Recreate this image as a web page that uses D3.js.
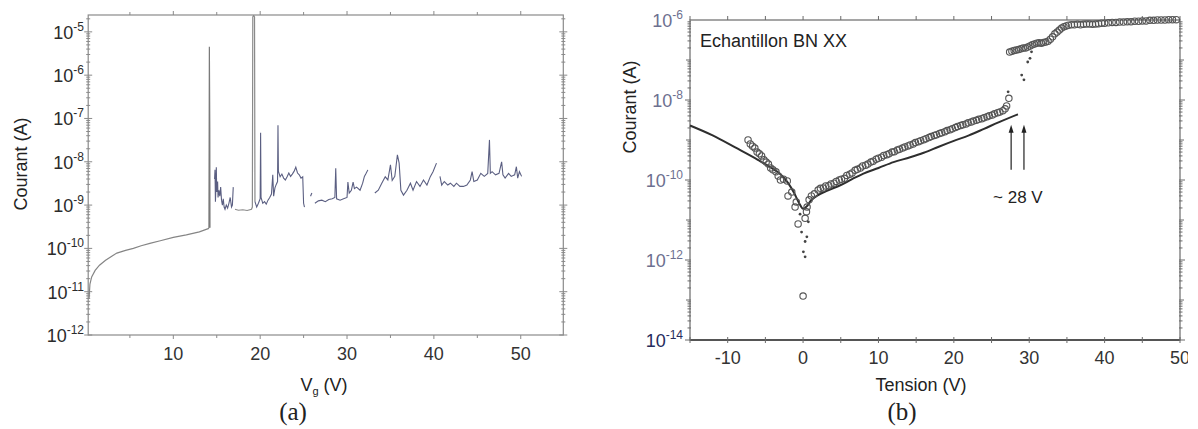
<!DOCTYPE html>
<html><head><meta charset="utf-8">
<script src="https://cdn.jsdelivr.net/npm/d3@7"></script>
<style>
body{margin:0;background:#fff}
svg text{font-family:"Liberation Sans",Arial,sans-serif}
</style>
</head><body>
<svg id="c" width="1198" height="429"></svg>
<script>
// ---------- Panel (a) data: Vg (V), I (A) ----------
const aSmooth = [[0.3,7e-12],[0.4,1.5e-11],[0.6,2.2e-11],[1.0,3.1e-11],[1.5,4.1e-11],[2.2,5.3e-11],[3.0,6.8e-11],[3.5,7.8e-11],[4.5,9e-11],[5.4,1.0e-10],[6.3,1.15e-10],[7.3,1.3e-10],[8.5,1.5e-10],[10,1.8e-10],[11.5,2.05e-10],[13,2.4e-10],[14.1,2.9e-10]];
const aSpike1 = [[14.1,2.9e-10],[14.15,4.5e-6],[14.2,6e-8],[14.22,3e-10]];
const aNoise1 = [[14.75,4e-9],[14.8,6.5e-9],[14.85,1.2e-9],[14.9,2.5e-9],[14.95,7.5e-9],[15.0,2.0e-9],[15.1,3.5e-9],[15.15,1.5e-9],[15.25,2.2e-9],[15.35,1.6e-9],[15.45,2.6e-9],[15.55,1.3e-9],[15.65,1.0e-9],[15.75,1.4e-9],[15.85,9e-10],[15.95,8e-10],[16.1,1.0e-9],[16.25,8.5e-10],[16.4,1.1e-9],[16.55,1.5e-9],[16.7,9e-10],[16.8,1.0e-9],[16.9,2.6e-9]];
const aSpike2 = [[17.1,8e-10],[17.5,7.6e-10],[18.0,7.8e-10],[18.5,7.5e-10],[19.0,8e-10],[19.1,9e-10],[19.15,2.2e-5],[19.25,2.4e-5],[19.35,2.2e-5],[19.4,1.2e-9]];
const aNoise2 = [[19.4,1.2e-9],[19.6,9e-10],[19.8,1.1e-9],[20.0,1.4e-9],[20.05,4.7e-8],[20.1,1.5e-9],[20.3,1.1e-9],[20.5,1.2e-9],[20.7,1.05e-9],[20.9,1.3e-9],[21.1,1.5e-9],[21.3,1.8e-9],[21.45,5e-9],[21.55,1.6e-9],[21.7,2.5e-9],[21.85,3e-9],[22.0,3.5e-9],[22.05,7e-8],[22.1,6e-9],[22.3,4.5e-9],[22.5,5.2e-9],[22.7,4.2e-9],[22.9,3.8e-9],[23.1,4.5e-9],[23.3,5.5e-9],[23.5,4.6e-9],[23.7,5.2e-9],[23.9,6e-9],[24.1,7.5e-9],[24.3,5.5e-9],[24.5,5e-9],[24.7,4.2e-9],[24.9,4.5e-9],[25.0,1.1e-9],[25.1,9e-10]];
const aNoise3 = [[25.8,1.6e-9],[25.95,1.9e-9]];
const aNoise4 = [[26.3,1.1e-9],[26.7,1.25e-9],[27.1,1.3e-9],[27.5,1.2e-9],[27.9,1.35e-9],[28.3,1.4e-9],[28.6,1.5e-9],[28.7,7.1e-9],[28.8,1.4e-9],[29.2,1.3e-9],[29.6,1.4e-9],[30.0,1.5e-9],[30.1,3.4e-9],[30.25,1.9e-9],[30.5,2.2e-9],[30.7,3.4e-9],[30.85,2.4e-9],[31.1,2.6e-9],[31.5,2.2e-9],[31.8,3.2e-9],[32.0,4.6e-9],[32.2,5.4e-9],[32.4,6.5e-9]];
const aNoise5 = [[33.2,1.9e-9],[33.6,2.2e-9],[34.0,3.2e-9],[34.4,4.5e-9],[34.7,3.8e-9],[35.0,8.5e-9],[35.2,3.7e-9],[35.5,4.6e-9],[35.8,1.45e-8],[36.0,9.3e-9],[36.2,2.2e-9],[36.5,1.7e-9],[36.9,2.2e-9],[37.3,3.2e-9],[37.6,2.2e-9],[38.0,3.5e-9],[38.4,2.7e-9],[38.8,3.8e-9],[39.2,2.9e-9],[39.6,4.6e-9],[39.9,5.9e-9],[40.3,9.3e-9]];
const aNoise6 = [[40.7,4.6e-9],[40.9,2.9e-9],[41.2,3.5e-9],[41.6,2.9e-9],[41.9,3.2e-9],[42.3,2.7e-9],[42.6,3.2e-9],[43.0,2.7e-9],[43.4,2.7e-9],[43.8,2.9e-9],[44.2,3.8e-9],[44.4,5.9e-9],[44.6,3.5e-9],[45.0,3.8e-9],[45.4,5.4e-9],[45.8,4.6e-9],[46.2,5.4e-9],[46.4,3.2e-8],[46.5,5.4e-9],[46.7,5.9e-9],[47.1,5.0e-9],[47.5,5.4e-9],[47.8,1.0e-8],[47.95,5.0e-9],[48.2,4.2e-9],[48.6,5.4e-9],[48.9,4.6e-9],[49.3,5.0e-9],[49.5,7.7e-9],[49.65,4.2e-9],[49.85,5.9e-9],[50.1,4.6e-9]];

// ---------- Panel (b) data: Tension (V), Courant (A) ----------
const bFit = [[-15,2.3e-9],[-12,1.3e-9],[-9,6.5e-10],[-6,3.2e-10],[-4,1.9e-10],[-3,1.4e-10],[-2,8.5e-11],[-1.2,4.8e-11],[-0.5,2.6e-11],[0,1.9e-11],[0.5,2.2e-11],[1.0,3.0e-11],[2,4.2e-11],[3,5.2e-11],[5,7.5e-11],[6.5,1.05e-10],[8,1.45e-10],[10,2.0e-10],[12,2.8e-10],[14.2,3.7e-10],[16,4.8e-10],[18,6.8e-10],[20,9.5e-10],[22,1.3e-9],[24,1.9e-9],[26,2.8e-9],[28.5,4.4e-9]];
const bCircles = [[-7.3,1.0e-9],[-7.0,8e-10],[-6.7,7e-10],[-6.4,6.3e-10],[-6.1,5e-10],[-5.8,4.5e-10],[-5.5,4e-10],[-5.2,3.2e-10],[-4.9,2.8e-10],[-4.6,2.5e-10],[-4.3,2e-10],[-4.0,1.8e-10],[-3.6,1.6e-10],[-3.3,1.25e-10],[-3.0,1e-10],[-2.6,1.05e-10],[-2.1,9.5e-11],[-2.0,4e-11],[-1.5,5e-11],[-1.06,2.1e-11],[-0.9,2.8e-11],[-0.66,8e-12],[0.0,1.25e-13],[0.27,1.1e-11],[0.45,1.6e-11],[0.53,2.1e-11],[0.8,3.2e-11],[1.1,4e-11],[1.5,4.5e-11],
[2.0,5.6e-11],[2.3,6.2e-11],[2.7,6.3e-11],[3.0,7.1e-11],[3.4,7.2e-11],[3.7,8e-11],[4.1,8.3e-11],[4.4,9.2e-11],[4.8,1.0e-10],[5.1,1.05e-10],[5.5,1.1e-10],[5.8,1.3e-10],[6.2,1.4e-10],[6.5,1.5e-10],[6.9,1.75e-10],[7.2,1.85e-10],[7.6,2.0e-10],[7.9,2.25e-10],[8.3,2.35e-10],[8.6,2.5e-10],[9.0,2.8e-10],[9.3,2.95e-10],[9.7,3.3e-10],[10.0,3.5e-10],[10.4,3.7e-10],[10.7,4.1e-10],[11.1,4.3e-10],[11.4,4.5e-10],[11.8,5.0e-10],[12.1,5.1e-10],[12.5,5.6e-10],[12.8,5.9e-10],[13.2,6.3e-10],[13.5,6.7e-10],[13.9,7.1e-10],[14.2,7.5e-10],[14.6,7.9e-10],[14.9,8.6e-10],[15.3,9.1e-10],[15.6,9.6e-10],[16.0,1.02e-9],[16.3,1.08e-9],[16.7,1.15e-9],[17.0,1.22e-9],[17.4,1.3e-9],[17.7,1.36e-9],[18.1,1.45e-9],[18.4,1.52e-9],[18.8,1.6e-9],[19.1,1.72e-9],[19.5,1.8e-9],[19.8,1.92e-9],[20.2,2.05e-9],[20.5,2.18e-9],[20.9,2.3e-9],[21.2,2.42e-9],[21.6,2.5e-9],[21.9,2.68e-9],[22.3,2.8e-9],[22.6,2.98e-9],[23.0,3.1e-9],[23.3,3.28e-9],[23.7,3.4e-9],[24.0,3.6e-9],[24.4,3.8e-9],[24.7,4.05e-9],[25.1,4.2e-9],[25.4,4.5e-9],[25.8,4.8e-9],[26.1,5.0e-9],[26.5,5.4e-9],[26.8,6.0e-9],[27.0,7.1e-9],[27.3,1.1e-8],
[27.4,1.58e-7],[27.7,1.66e-7],[28.0,1.74e-7],[28.3,1.78e-7],[28.6,1.82e-7],[28.9,1.9e-7],[29.2,2.0e-7],[29.5,2.0e-7],[29.8,2.1e-7],[30.1,2.24e-7],[30.4,2.4e-7],[30.7,2.5e-7],[31.0,2.63e-7],[31.3,2.7e-7],[31.6,2.63e-7],[31.9,2.75e-7],[32.2,2.8e-7],[32.5,2.95e-7],[32.8,3.3e-7],[33.1,3.8e-7],[33.4,4.5e-7],[33.7,5.0e-7],[34.0,5.6e-7],[34.3,6.3e-7],[34.6,6.8e-7],[34.9,7.1e-7],[35.2,7.4e-7],[35.6,7.6e-7],[36.0,7.6e-7],[36.4,7.8e-7],[36.8,7.6e-7],[37.2,7.8e-7],[37.6,7.9e-7],[38.0,7.9e-7],[38.4,7.8e-7],[38.8,7.9e-7],[39.2,8.1e-7],[39.6,8.3e-7],[40.0,8.3e-7],[40.5,8.5e-7],[41.0,8.7e-7],[41.5,8.7e-7],[42.0,8.9e-7],[42.5,8.9e-7],[43.0,9.1e-7],[43.5,9.1e-7],[44.0,9.3e-7],[44.5,9.3e-7],[45.0,9.5e-7],[45.5,9.5e-7],[46.0,9.8e-7],[46.5,9.8e-7],[47.0,1.0e-6],[47.5,1.0e-6],[48.0,1.0e-6],[48.5,1.02e-6],[49.0,1.02e-6],[49.5,1.02e-6]];
const bDots = [[-0.2,5e-12],[0.5,3.8e-12],[0.27,2.9e-12],[0.04,1.6e-12],[0.27,1.2e-12],[0.7,9e-12],[-0.4,1.4e-11],[27.2,1.6e-8],[29.0,4.2e-8],[29.3,3.2e-8],[29.8,8.9e-8],[30.1,1.1e-7],[30.3,1.6e-7]];
const bArrows = [[27.6,1.8e-10,2.4e-9],[29.3,1.8e-10,2.4e-9]];
const bNote = {v:25.2, i:2.7e-11, text:"~ 28 V"};

// ---------- tick labels ----------
const aXTicks = [10,20,30,40,50];
const aYExp = [-12,-11,-10,-9,-8,-7,-6,-5];
const bXTicks = [-10,0,10,20,30,40,50];
const bYExp = [-14,-12,-10,-8,-6];

const svg = d3.select("#c");

// ===== Panel (a) =====
const xA = d3.scaleLinear().domain([0.2, 54.9]).range([88.2, 563.3]);
const yA = d3.scaleLog().domain([1e-12, 2.45e-5]).range([335, 15]);
const gA = svg.append("g");
const frameA = "#8a8a8a";
gA.append("defs").append("clipPath").attr("id","clipA").append("rect")
  .attr("x",xA(0.2)).attr("y",yA(2.45e-5)).attr("width",xA(54.9)-xA(0.2)).attr("height",yA(1e-12)-yA(2.45e-5));
// frame
gA.append("rect").attr("x",xA(0.2)).attr("y",yA(2.45e-5)).attr("width",xA(54.9)-xA(0.2)).attr("height",yA(1e-12)-yA(2.45e-5))
  .attr("fill","none").attr("stroke",frameA).attr("stroke-width",1.2);
// x ticks (every 5)
for (let v=5; v<=50; v+=5){
  const major = v%10===0;
  gA.append("line").attr("x1",xA(v)).attr("x2",xA(v)).attr("y1",yA(1e-12)).attr("y2",yA(1e-12)+(major?4:3)).attr("stroke",frameA);
  gA.append("line").attr("x1",xA(v)).attr("x2",xA(v)).attr("y1",yA(2.45e-5)).attr("y2",yA(2.45e-5)-(major?4:3)).attr("stroke",frameA);
}
aXTicks.forEach(v=>{
  gA.append("text").attr("x",xA(v)).attr("y",360).attr("text-anchor","middle").attr("font-size",18).attr("fill","#333").text(v);
});
// y ticks
for (let e=-12; e<=-5; e++){
  for (let m=1; m<=9; m++){
    const val = m*Math.pow(10,e);
    if (val>2.45e-5) continue;
    const L = m===1?4:2;
    gA.append("line").attr("x1",xA(0.2)-L).attr("x2",xA(0.2)+L).attr("y1",yA(val)).attr("y2",yA(val)).attr("stroke",frameA);
    gA.append("line").attr("x1",xA(54.9)-L).attr("x2",xA(54.9)+L).attr("y1",yA(val)).attr("y2",yA(val)).attr("stroke",frameA);
  }
}
aYExp.forEach(e=>{
  const t = gA.append("text").attr("x",84).attr("y",yA(Math.pow(10,e))+7).attr("text-anchor","end").attr("font-size",18).attr("fill","#2b2b2b");
  t.append("tspan").text("10");
  t.append("tspan").attr("dy",-8).attr("font-size",12).text(String(e).replace("-","-"));
});
// data
const lineA = d3.line().x(d=>xA(d[0])).y(d=>yA(d[1]));
const dataA = gA.append("g").attr("clip-path","url(#clipA)");
[[aSmooth,"#858585"],[aSpike1,"#7a7a7a"],[aSpike2,"#8a8a8a"]].forEach(([d,c])=>{
  dataA.append("path").attr("d",lineA(d)).attr("fill","none").attr("stroke",c).attr("stroke-width",1.2);
});
[aNoise1,aNoise2,aNoise3,aNoise4,aNoise5,aNoise6].forEach(d=>{
  dataA.append("path").attr("d",lineA(d)).attr("fill","none").attr("stroke","#5b5f82").attr("stroke-width",1.1);
});
// labels
gA.append("text").attr("transform","translate(27,164) rotate(-90)").attr("text-anchor","middle").attr("font-size",18).attr("fill","#222").text("Courant (A)");
const vg = gA.append("text").attr("x",324).attr("y",391).attr("text-anchor","middle").attr("font-size",18).attr("fill","#222");
vg.append("tspan").text("V");
vg.append("tspan").attr("dy",4).attr("font-size",11).text("g");
vg.append("tspan").attr("dy",-4).text(" (V)");
gA.append("text").attr("x",293).attr("y",420).attr("text-anchor","middle").attr("font-size",25).attr("fill","#222")
  .style("font-family","'Liberation Serif','Times New Roman',serif").text("(a)");

// ===== Panel (b) =====
const xB = d3.scaleLinear().domain([-15, 50]).range([690, 1180]);
const yB = d3.scaleLog().domain([1e-14, 1e-6]).range([340, 20]);
const gB = svg.append("g");
const frameB = "#6a6a6a";
gB.append("rect").attr("x",xB(-15)).attr("y",yB(1e-6)).attr("width",xB(50)-xB(-15)).attr("height",yB(1e-14)-yB(1e-6))
  .attr("fill","none").attr("stroke",frameB).attr("stroke-width",1.2);
gB.append("line").attr("x1",xB(-15)).attr("x2",xB(50)).attr("y1",yB(1e-14)).attr("y2",yB(1e-14)).attr("stroke","#555").attr("stroke-width",2);
for (let v=-15; v<=50; v+=5){
  gB.append("line").attr("x1",xB(v)).attr("x2",xB(v)).attr("y1",yB(1e-14)-3).attr("y2",yB(1e-14)+3).attr("stroke",frameB);
  gB.append("line").attr("x1",xB(v)).attr("x2",xB(v)).attr("y1",yB(1e-6)).attr("y2",yB(1e-6)-4).attr("stroke",frameB);
}
const clipTick = gB.append("defs").append("clipPath").attr("id","clipBx").append("rect").attr("x",600).attr("y",340).attr("width",588).attr("height",40);
const xl = gB.append("g").attr("clip-path","url(#clipBx)");
bXTicks.forEach(v=>{
  xl.append("text").attr("x",xB(v)).attr("y",364).attr("text-anchor","middle").attr("font-size",18).attr("fill","#333").text(v);
});
for (let e=-14; e<=-7; e++){
  for (let m=1; m<=9; m++){
    const val = m*Math.pow(10,e);
    const L = m===1?(e%2===0?5:4):2.5;
    gB.append("line").attr("x1",xB(-15)-L).attr("x2",xB(-15)+1).attr("y1",yB(val)).attr("y2",yB(val)).attr("stroke",frameB);
    gB.append("line").attr("x1",xB(50)-1).attr("x2",xB(50)+L).attr("y1",yB(val)).attr("y2",yB(val)).attr("stroke",frameB);
  }
}
bYExp.forEach(e=>{
  const t = gB.append("text").attr("x",683).attr("y",yB(Math.pow(10,e))+7).attr("text-anchor","end").attr("font-size",18)
    .attr("fill", e===-14?"#262b5c":"#6d7090");
  t.append("tspan").text("10");
  t.append("tspan").attr("dy",-8).attr("font-size",12).text(String(e));
});
// data
const lineB = d3.line().x(d=>xB(d[0])).y(d=>yB(d[1])).curve(d3.curveMonotoneX);
gB.append("path").attr("d",lineB(bFit)).attr("fill","none").attr("stroke","#2e2e2e").attr("stroke-width",2);
gB.append("g").selectAll("circle").data(bCircles).join("circle")
  .attr("cx",d=>xB(d[0])).attr("cy",d=>yB(d[1])).attr("r",3.2)
  .attr("fill","none").attr("stroke","#555").attr("stroke-width",1.1);
gB.append("g").selectAll("circle").data(bDots).join("circle")
  .attr("cx",d=>xB(d[0])).attr("cy",d=>yB(d[1])).attr("r",1.4).attr("fill","#444");
// arrows
bArrows.forEach(a=>{
  const x = xB(a[0]), y0 = yB(a[1]), y1 = yB(a[2]);
  gB.append("line").attr("x1",x).attr("x2",x).attr("y1",y0).attr("y2",y1+6).attr("stroke","#222").attr("stroke-width",1.2);
  gB.append("path").attr("d",`M${x-2.5},${y1+8} L${x},${y1} L${x+2.5},${y1+8} Z`).attr("fill","#222");
});
gB.append("text").attr("x",xB(bNote.v)).attr("y",yB(bNote.i)).attr("font-size",17).attr("fill","#222").text(bNote.text);
gB.append("text").attr("x",700).attr("y",47).attr("font-size",18).attr("fill","#222").text("Echantillon BN XX");
gB.append("text").attr("transform","translate(636,107) rotate(-90)").attr("text-anchor","middle").attr("font-size",18).attr("fill","#222").text("Courant (A)");
gB.append("text").attr("x",921).attr("y",391).attr("text-anchor","middle").attr("font-size",18).attr("fill","#222").text("Tension (V)");
gB.append("text").attr("x",902).attr("y",420).attr("text-anchor","middle").attr("font-size",25).attr("fill","#222")
  .style("font-family","'Liberation Serif','Times New Roman',serif").text("(b)");
</script>
</body></html>
